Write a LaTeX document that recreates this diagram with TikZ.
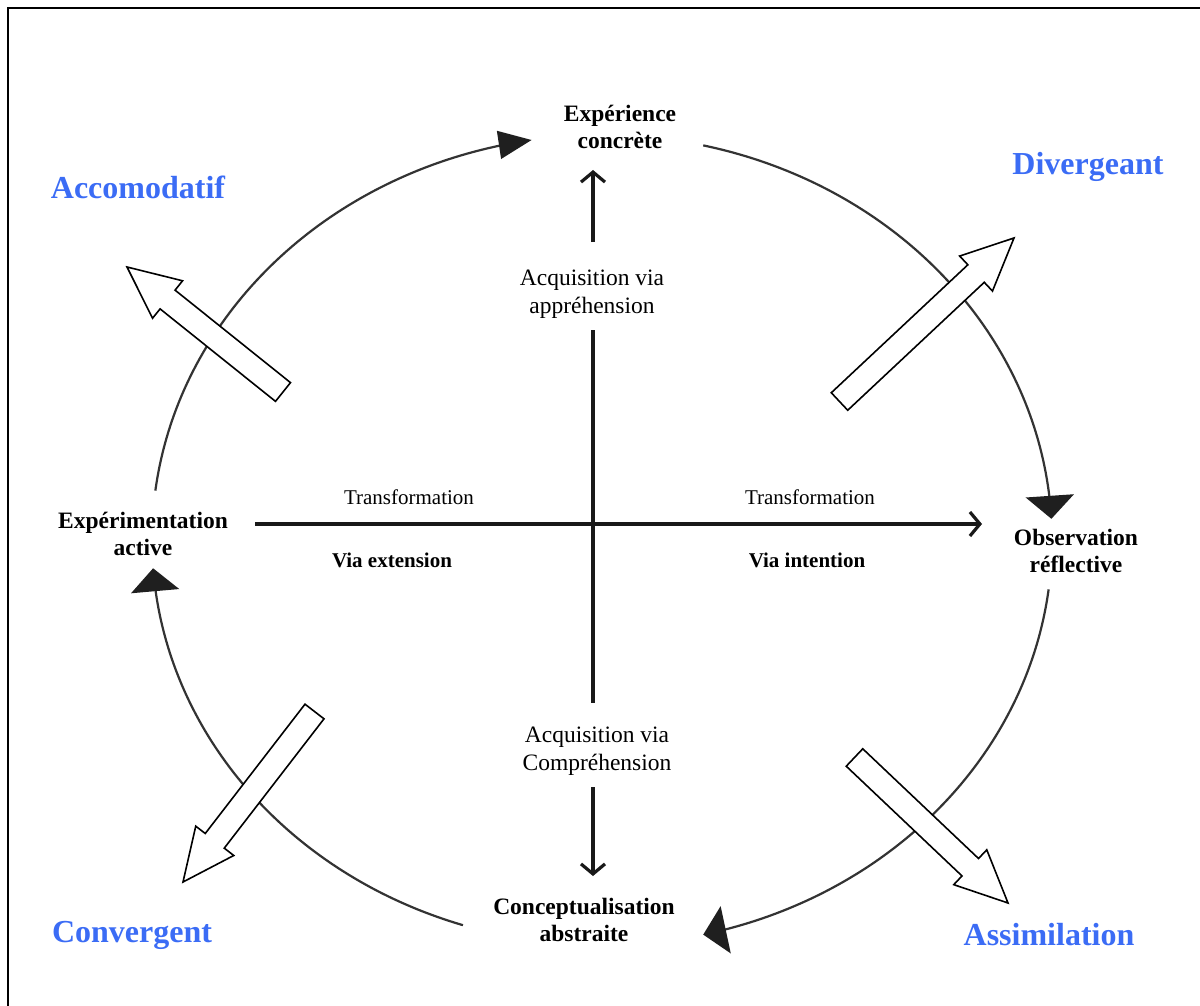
\documentclass[tikz,border=0pt]{standalone}
\usepackage{fontspec}
\setmainfont{Liberation Serif}
\usetikzlibrary{arrows.meta,calc}
\definecolor{stylblue}{RGB}{59,108,245}
\newcommand{\hollowarrow}[3]{% tail, tip, name
  \coordinate (#3-b) at ($(#2)!52pt!(#1)$);
  \path[barrow] ($(#1)!12pt!90:(#2)$) -- ($(#3-b)!12pt!90:(#2)$) -- ($(#3-b)!24pt!90:(#2)$)
    -- (#2) -- ($(#3-b)!24pt!-90:(#2)$) -- ($(#3-b)!12pt!-90:(#2)$) -- ($(#1)!12pt!-90:(#2)$) -- cycle;
}
\begin{document}
\begin{tikzpicture}[x=1pt,y=-1pt,
  lab/.style={font=\fontsize{23.5}{27}\selectfont\bfseries, align=center, inner sep=0pt},
  mid/.style={font=\fontsize{23.5}{28}\selectfont, align=center, inner sep=0pt},
  small/.style={font=\fontsize{21}{24}\selectfont\bfseries, inner sep=0pt},
  trans/.style={font=\fontsize{21}{24}\selectfont, inner sep=0pt},
  stylelab/.style={font=\fontsize{32}{36}\selectfont\bfseries, text=stylblue, inner sep=0pt},
  cyc/.style={line width=2.2pt, draw=black!80},
  axis/.style={line width=3.2pt, draw=black!90},
  barrow/.style={draw=black, fill=white, line width=1.6pt, line join=miter},
  bigtip/.style={-{Triangle[length=23pt,width=48pt,fill=black!88,color=black!88]}},
  toptip/.style={-{Triangle[length=33pt,width=28pt,fill=black!88,color=black!88]}},
  axtip/.style={-{Straight Barb[length=10pt,width=24pt]}},
]
\useasboundingbox (0,0) rectangle (1200,1006);
\draw[line width=2.2pt] (8,1006) -- (8,8) -- (1200,8);

% cycle arcs
\draw[cyc, toptip] plot[domain=187:261, samples=80] ({602+450*cos(\x)},{540+405*sin(\x)});
\draw[cyc, bigtip] plot[domain=-77:-3, samples=80] ({602+450*cos(\x)},{540+405*sin(\x)});
\draw[cyc, bigtip] plot[domain=7:77, samples=80] ({602+450*cos(\x)},{540+405*sin(\x)});
\draw[cyc, bigtip] plot[domain=108:176, samples=80] ({602+450*cos(\x)},{540+405*sin(\x)});

% hollow block arrows
\coordinate (accT) at (283,392); \coordinate (accP) at (127,267);
\coordinate (divT) at (839.5,401.5); \coordinate (divP) at (1014,238);
\coordinate (conT) at (314.5,711.5); \coordinate (conP) at (183,882);
\coordinate (asiT) at (854.5,757.5); \coordinate (asiP) at (1008,903);
\hollowarrow{accT}{accP}{acc}
\hollowarrow{divT}{divP}{div}
\hollowarrow{conT}{conP}{con}
\hollowarrow{asiT}{asiP}{asi}

% axes
\coordinate (v1a) at (593,242); \coordinate (v1b) at (593,170);
\coordinate (v2a) at (593,330); \coordinate (v2b) at (593,703);
\coordinate (v3a) at (593,787); \coordinate (v3b) at (593,876);
\coordinate (h1) at (255,524); \coordinate (h2) at (982,524);
\draw[axis, axtip] (v1a) -- (v1b);
\draw[axis] (v2a) -- (v2b);
\draw[axis, axtip] (v3a) -- (v3b);
\draw[axis, axtip] (h1) -- (h2);

% labels
\node[lab] (EC) at (620,127) {Expérience\\concrète};
\node[lab] (EA) at (143,534) {Expérimentation\\active};
\node[lab] (OR) at (1076,551) {Observation\\réflective};
\node[lab] (CA) at (584,920) {Conceptualisation\\abstraite};
\node[mid] (acqA) at (592,294) {Acquisition via\\appréhension};
\node[mid] (acqC) at (597,751) {Acquisition via\\Compréhension};
\node[trans] (trL) at (409,497) {Transformation};
\node[trans] (trR) at (810,497) {Transformation};
\node[small] (vL) at (392,560) {Via extension};
\node[small] (vR) at (807,560) {Via intention};
\node[stylelab] (accL) at (138,187) {Accomodatif};
\node[stylelab] (divL) at (1088,167) {Divergeant};
\node[stylelab] (conL) at (132,935) {Convergent};
\node[stylelab] (asiL) at (1049,935) {Assimilation};
\end{tikzpicture}
\end{document}
